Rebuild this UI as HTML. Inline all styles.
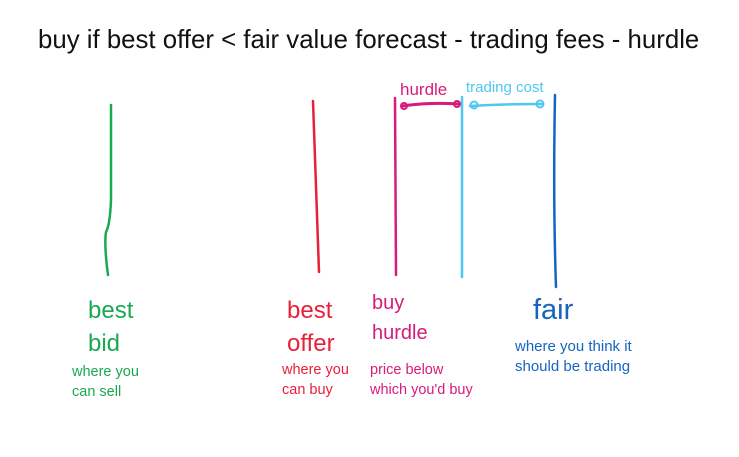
<!DOCTYPE html>
<html><head><meta charset="utf-8"><style>
html,body{margin:0;padding:0;background:#fff;}
#c{position:relative;width:739px;height:457px;overflow:hidden;font-family:"Liberation Sans",sans-serif;}
svg{position:absolute;left:0;top:0;}
.t{position:absolute;white-space:nowrap;line-height:1;}
</style></head><body>
<div id="c">
<svg width="739" height="457" fill="none" stroke-linecap="round">
<path d="M111 105 L111 200 Q110 225 106 232 Q104 245 108 275" stroke="#1aa850" stroke-width="2.5"/>
<path d="M313 101 Q316 190 319 272" stroke="#e8203a" stroke-width="2.5"/>
<path d="M395 98 L396 275" stroke="#d81b7a" stroke-width="2.5"/>
<path d="M462 97 L462 277" stroke="#4fc8f0" stroke-width="2.5"/>
<path d="M555 95 Q553 200 556 287" stroke="#1565c0" stroke-width="2.5"/>
<path d="M402 106 Q430 102 459 104" stroke="#d81b7a" stroke-width="3"/>
<circle cx="404" cy="106" r="3" stroke="#d81b7a" stroke-width="2"/>
<circle cx="457" cy="104" r="3" stroke="#d81b7a" stroke-width="2"/>
<path d="M470 106 Q505 104 542 104" stroke="#4fc8f0" stroke-width="2.5"/>
<circle cx="474" cy="105" r="3.5" stroke="#4fc8f0" stroke-width="2"/>
<circle cx="540" cy="104" r="3.5" stroke="#4fc8f0" stroke-width="2"/>
</svg>
<div class="t" style="left:38px;top:28px;font-size:25.8px;color:#111;">buy if best offer &lt; fair value forecast - trading fees - hurdle</div>
<div class="t" style="left:400px;top:81px;font-size:17px;color:#d81b7a;">hurdle</div>
<div class="t" style="left:466px;top:80px;font-size:15px;color:#4fc8f0;">trading cost</div>
<div class="t" style="left:88px;top:294px;font-size:24px;color:#1aa850;line-height:33px;">best<br>bid</div>
<div class="t" style="left:72px;top:362px;font-size:14.5px;color:#1aa850;line-height:20px;">where you<br>can sell</div>
<div class="t" style="left:287px;top:294px;font-size:24px;color:#e8203a;line-height:33px;">best<br>offer</div>
<div class="t" style="left:282px;top:360px;font-size:14.5px;color:#e8203a;line-height:20px;">where you<br>can buy</div>
<div class="t" style="left:372px;top:288px;font-size:20px;color:#d81b7a;line-height:30px;">buy<br>hurdle</div>
<div class="t" style="left:370px;top:360px;font-size:14.5px;color:#d81b7a;line-height:20px;">price below<br>which you'd buy</div>
<div class="t" style="left:533px;top:296px;font-size:29px;color:#1565c0;">fair</div>
<div class="t" style="left:515px;top:337px;font-size:15px;color:#1565c0;line-height:20px;">where you think it<br>should be trading</div>
</div>
</body></html>
